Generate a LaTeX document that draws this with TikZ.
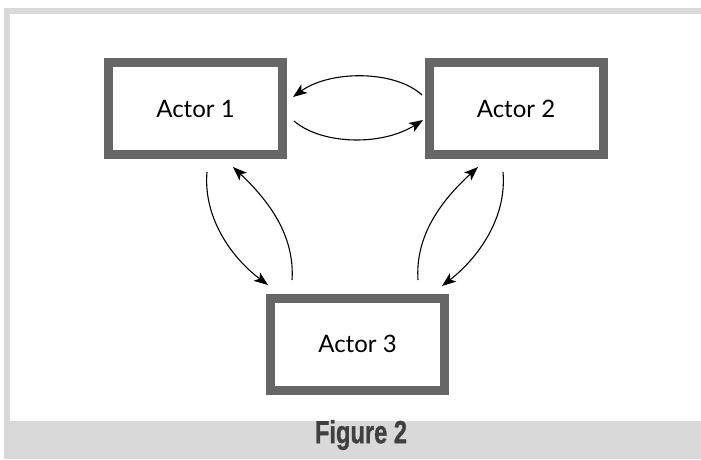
\documentclass[tikz,border=0pt]{standalone}
\usepackage{fontspec}
\setmainfont{Lato}
\newfontface\figfont[FakeBold=1.2]{Liberation Sans Bold}
\usetikzlibrary{arrows.meta}
\definecolor{framegray}{HTML}{D9D9D9}
\definecolor{boxgray}{HTML}{666666}
\definecolor{capgray}{HTML}{404040}
\tikzset{
  actorbox/.style={draw=boxgray, line width=9pt, fill=white, minimum width=174pt, minimum height=92pt, inner sep=0pt, font=\fontsize{24}{28}\selectfont},
  link/.style={line width=1.1pt, -{Stealth[length=14pt,width=10.5pt,inset=3.5pt]}}
}
\begin{document}
\begin{tikzpicture}[x=1pt,y=-1pt]
\useasboundingbox (0,0) rectangle (701,459);
\fill[white] (0,0) rectangle (701,459);
\fill[framegray] (4,8) rectangle (701,459);
\fill[white] (10,14) rectangle (701,421);
\node[actorbox] (a1) at (195.5,108.5) {Actor 1};
\node[actorbox] (a2) at (516,108.5) {Actor 2};
\node[actorbox] (a3) at (357.5,344) {Actor 3};
% endpoints
\coordinate (s12) at (294,121);
\coordinate (e12) at (423,120);
\coordinate (s21) at (422,95);
\coordinate (e21) at (293,97);
\coordinate (s13) at (207,172);
\coordinate (e13) at (268,285);
\coordinate (s31) at (292,280);
\coordinate (e31) at (233,167);
\coordinate (s32) at (418,280);
\coordinate (e32) at (478,167);
\coordinate (s23) at (503,172);
\coordinate (e23) at (442,286);
\draw[link] (s21) .. controls (395,70) and (330,70) .. (e21);
\draw[link] (s12) .. controls (322,145) and (382,146) .. (e12);
\draw[link] (s13) .. controls (203,218) and (232,258) .. (e13);
\draw[link] (s31) .. controls (295,235) and (268,200) .. (e31);
\draw[link] (s32) .. controls (415,235) and (442,200) .. (e32);
\draw[link] (s23) .. controls (507,218) and (478,258) .. (e23);
\node[text=capgray, font=\figfont\fontsize{32}{34}\selectfont, xscale=0.74, inner sep=0pt] (cap) at (361,435) {Figure 2};
\end{tikzpicture}
\end{document}
